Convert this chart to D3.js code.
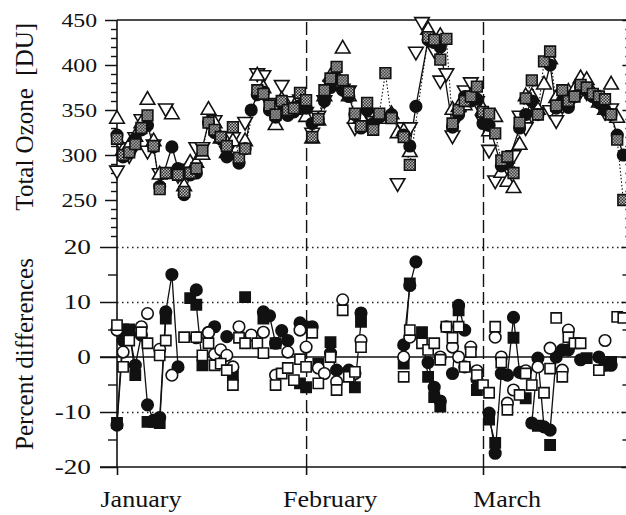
<!DOCTYPE html>
<html>
<head>
<meta charset="utf-8">
<script src="https://cdn.jsdelivr.net/npm/d3@7/dist/d3.min.js"></script>
<style>
  body { margin: 0; background: #fff; }
  text { font-family: "Liberation Serif", "Times New Roman", serif; fill: #111; }
</style>
</head>
<body>
<svg id="chart" width="626" height="515"></svg>
<script>
// days counted from 1 Jan (leap year, so 1 Mar = day 60)
const startDay = Date.UTC(1996, 0, 1)
const monthNames = ['January', 'February', 'March']
const monthDays = [0, 31, 60]
const ozoneTicks = [250, 300, 350, 400, 450]
const diffTicks = [-20, -10, 0, 10, 20]

// top panel: total ozone [DU], one value per day from 1 Jan (null = no value)
const ozoneCircle = [
  322, 298, 302, 318, 328, 333, 309, 265, null, 309,
  285, 256, 278, 280, null, 336, 325, 318, 298, null,
  291, 307, 350, 367, 370, 350, 342, 358, 344, 348,
  355, 352, 335, 340, 360, 375, 385, 372, 365, 345,
  330, 350, 335, 342, null, 345, null, 322, 310, 354,
  null, 428, 425, 420, null, 331, 345, 365, 360, 362,
  335, 333, null, 288, 290, null, 330, 345, 360, 345,
  null, 400, 352, 360, 353, 365, 375, 372, 365, 358,
  350, 345, 322, 300]
const ozoneHatched = [
  318, 300, 303, 312, 330, 344, 310, 262, 280, null,
  278, 259, 280, 285, 305, 336, 328, 320, 310, 331,
  297, 307, null, 372, 368, 355, 345, 360, 350, 352,
  369, 361, 320, 340, 372, 385, 398, 383, 370, 346,
  332, 358, 328, 346, 391, 341, null, 320, 289, null,
  null, 431, 428, 406, 429, 335, 350, 360, 365, 376,
  348, 346, 324, 294, 298, 280, 336, 363, 383, 345,
  404, 415, 355, 372, 360, 365, 378, 375, 368, 365,
  362, 345, 317, 250]
const ozoneUp = [
  340, 305, 310, 320, 335, 361, 315, 278, null, 345,
  null, 265, 291, 291, 300, 350, 335, 318, 302, 315,
  null, 315, null, 388, 374, null, 333, 361, 353, 350,
  353, 342, 318, 338, 365, 387, 378, 418, 365, 340,
  341, 352, null, 340, null, 345, 324, 326, 303, null,
  null, 439, 425, 432, null, 350, 353, 355, 365, 361,
  350, 326, 342, 280, 270, 263, 311, 365, 365, 350,
  378, 406, 363, 355, 370, 372, 385, 383, 368, 358,
  350, 378, 341, null]
const ozoneDown = [
  283, 309, 300, 320, 340, 305, 312, 280, 352, null,
  278, null, 285, 309, 309, null, 339, 320, 305, 320,
  null, 337, null, 391, 389, 358, null, 378, 360, 352,
  362, 348, 325, 344, 361, 378, 381, 374, 372, 331,
  345, null, 338, null, null, null, 269, 331, 331, 415,
  448, null, 417, 383, 391, 322, 345, 372, 381, 360,
  339, 306, 272, null, 280, 300, 344, 331, 345, 348,
  null, 350, 339, 355, 360, 367, 372, 370, 367, 361,
  348, 352, null, null]

// bottom panel: percent differences
const diffCircle = [
  -12.4, 3, 4.5, -1.5, 4, -8.7, -11.5, -11, 8.2, 15,
  -1.8, null, null, 12.2, null, 4.5, 5.5, null, 3.7, null,
  null, null, null, null, 8.2, 7.5, 2.5, 4.8, 3, null,
  6.2, 5.5, 5.5, null, null, 0.7, -2.4, null, -2.4, null,
  8, null, null, null, null, null, null, 2.2, 13, 17.3,
  null, -1, -5.5, -8, null, -3, 9.4, 4.9, null, -4,
  null, -10.2, -17.5, -3, -3.3, 7.2, -2.8, null, -12, -0.2,
  -12.7, -13.3, 0, 1.3, 1.3, null, -0.5, null, null, 0,
  -1.5, -1.5, null, null]
const diffSquare = [
  -12, 5, 5, -3.3, null, -11.8, -11.8, -12, 7, null,
  null, null, 10.7, 9.5, -1.5, null, null, null, null, -3.5,
  null, 10.9, null, null, 7, null, 2.5, null, null, null,
  -4.8, -5.5, null, -1.2, null, 2.7, null, null, null, -5.5,
  6.4, null, null, null, null, null, null, -1.2, 13.4, null,
  4.5, -3.6, -7.3, -9, null, null, 8.5, null, null, -6,
  null, -11.4, -15.6, null, null, 3.5, null, -7.5, null, -12.5,
  null, -16, null, null, null, null, null, -0.2, null, null,
  -1.5, -0.9, null, null]
const diffOpenCircle = [
  4.9, 0.9, null, null, 5.5, 7.9, null, 1.4, null, -3.3,
  null, null, null, 3.5, null, 4.4, 0.5, 1.3, 0.3, -1.8,
  5.5, null, 4, null, 4.5, null, -3.3, null, 0.9, null,
  4.9, 1.8, null, -2, -3, null, -4.5, 10.4, null, -3,
  3, null, null, null, null, null, null, 0, 3.6, null,
  null, null, null, 0, 5.5, 1.8, 0, -1.8, 1.8, -2.5,
  null, null, 3.6, 0, -8.4, -6, null, -2.5, null, -1.8,
  null, 1.6, null, -2.4, 4.9, null, null, null, null, null,
  3, null, null, null]
const diffOpenSquare = [
  5.8, -1.8, 3, null, 4.5, 2.5, null, 0.3, 3, null,
  null, 3.6, null, 3.6, 0.3, 2.5, -1.5, -1.2, -2.4, -5.1,
  3.5, 2.5, null, 2.5, 0.7, null, -5.1, -3, -2, -4.2,
  -0.4, -1.8, 4.4, -4.8, null, 0, -6, 8.5, -3.6, -2.7,
  1.8, null, null, null, null, null, null, -3.6, 4.9, null,
  2.5, 1.3, 2.5, -0.5, 5.5, 3.5, 5.5, -1.8, 0.9, -3.3,
  -5.1, -6.5, 5.5, -1, -9.6, null, -6.9, -3, -5.1, null,
  -6.5, -2.1, 7.1, -3.6, 3.6, 2.5, 2.5, null, null, -2.4,
  null, null, 7.3, 7.1]

const day = i => new Date(startDay + i * 864e5)

let svg = d3.select('#chart')
let x = d3.scaleUtc().domain([day(0), day(84)]).range([117, 629.4])
let yTop = d3.scaleLinear().domain([200, 450]).range([245, 20])
let yBot = d3.scaleLinear().domain([-20, 20]).range([467, 247])
let xL = x.range()[0], xR = x.range()[1]

// grey pattern for the hatched squares
svg.append('defs').append('pattern')
  .attr('id', 'hatch').attr('width', 3).attr('height', 3)
  .attr('patternUnits', 'userSpaceOnUse')
  .call(p => {
    p.append('rect').attr('width', 3).attr('height', 3).attr('fill', '#d8d8d8')
    p.append('rect').attr('width', 1.5).attr('height', 1.5).attr('fill', '#111')
    p.append('rect').attr('x', 1.5).attr('y', 1.5).attr('width', 1.5).attr('height', 1.5).attr('fill', '#111')
  })

// dotted grid in the lower panel
svg.append('g')
  .attr('transform', `translate(${xL},0)`)
  .call(d3.axisLeft(yBot).tickValues([20, 10, -10]).tickSize(-(xR - xL)).tickFormat(''))
  .call(g => g.select('.domain').remove())
  .selectAll('line').attr('stroke', '#222').attr('stroke-width', 1.4).attr('stroke-dasharray', '1.5,3.5')

// zero line
svg.append('line')
  .attr('x1', 100).attr('x2', xR).attr('y1', yBot(0)).attr('y2', yBot(0))
  .attr('stroke', '#111').attr('stroke-width', 1.6)

// month dividers (dashed)
svg.append('g')
  .attr('transform', `translate(0,${yBot(-20)})`)
  .call(d3.axisBottom(x).tickValues([day(31), day(60)]).tickSize(-(yBot(-20) - yTop(450))).tickFormat(''))
  .call(g => g.select('.domain').remove())
  .selectAll('line').attr('stroke', '#111').attr('stroke-width', 1.4).attr('stroke-dasharray', '13,5')

// bottom axis
svg.append('g')
  .attr('transform', `translate(0,${yBot(-20)})`)
  .call(d3.axisBottom(x).tickValues(monthDays.map(day)).tickSize(8).tickSizeOuter(0).tickFormat(''))
  .call(g => g.select('.domain').attr('d', `M100,0H${xR}`))
  .selectAll('path, line').attr('stroke', '#111').attr('stroke-width', 1.6)

// top border
svg.append('line')
  .attr('x1', xL).attr('x2', xR).attr('y1', yTop(450)).attr('y2', yTop(450))
  .attr('stroke', '#111').attr('stroke-width', 1.6)

// left axis line through both panels, and the right one (mostly off the page)
svg.selectAll('.vaxis').data([xL, xR]).join('line')
  .attr('x1', d => d).attr('x2', d => d)
  .attr('y1', yTop(450)).attr('y2', yBot(-20))
  .attr('stroke', '#111').attr('stroke-width', 1.6)

function leftAxis(scale, major, minor, majorLen, minorLen, labelRight, font, sx, xPos, labels) {
  let g = svg.append('g').attr('transform', `translate(${xPos},0)`)
  g.append('g')
    .call(d3.axisLeft(scale).tickValues(minor).tickSize(minorLen).tickFormat(''))
    .call(a => a.select('.domain').remove())
    .selectAll('line').attr('stroke', '#111').attr('stroke-width', 1.4)
  let ax = g.append('g')
    .call(d3.axisLeft(scale).tickValues(major).tickSize(majorLen).tickPadding(0).tickFormat(d => String(d)))
    .call(a => a.select('.domain').remove())
  ax.selectAll('line').attr('stroke', '#111').attr('stroke-width', 1.5)
  ax.selectAll('text')
    .style('font-size', font + 'px')
    .attr('x', -(xPos - labelRight) / sx)
    .attr('transform', `scale(${sx},1)`)
  if (!labels) ax.selectAll('text').remove()
}

const ozoneMinor = d3.range(210, 450, 10).filter(v => v % 50)
const diffMinor = [-15, -5, 5, 15]
leftAxis(yTop, ozoneTicks, ozoneMinor, 12, 6, 97, 19, 1.25, xL, true)
leftAxis(yBot, diffTicks, diffMinor, 17, 9, 91, 21, 1.3, xL, true)
// inward ticks on the right frame
leftAxis(yTop, ozoneTicks, ozoneMinor, 7, 4, 0, 19, 1, xR, false)
leftAxis(yBot, diffTicks, diffMinor, 8, 7, 0, 21, 1, xR, false)

// month names
svg.append('g').selectAll('text')
  .data(monthNames)
  .join('text')
  .attr('transform', (d, i) => `translate(${x(day(monthDays[i])) + 24},507) scale(1.16,1)`)
  .attr('text-anchor', 'middle')
  .style('font-size', '22.5px')
  .text(d => d)

// axis titles
svg.append('text')
  .attr('transform', `translate(33,${(yTop(450) + yTop(235)) / 2}) rotate(-90)`)
  .attr('text-anchor', 'middle')
  .style('font-size', '25px').style('white-space', 'pre')
  .text('Total Ozone  [DU]')
svg.append('text')
  .attr('transform', `translate(33,${(yBot(20) + yBot(-20)) / 2 - 3}) rotate(-90)`)
  .attr('text-anchor', 'middle')
  .style('font-size', '25px')
  .text('Percent differences')

// ---- data marks ----
const pts = vals => vals.map((v, i) => [i, v]).filter(d => d[1] != null)

function connect(vals, y, dash, gaps) {
  let line = d3.line().x(d => x(day(d[0]))).y(d => y(d[1]))
  let data = gaps ? vals.map((v, i) => [i, v]) : pts(vals)
  if (gaps) line.defined(d => d[1] != null)
  svg.append('path')
    .datum(data)
    .attr('d', line)
    .attr('fill', 'none').attr('stroke', '#111')
    .attr('stroke-width', dash ? 1.1 : 1.3)
    .attr('stroke-dasharray', dash)
}

function marks(vals, y, type, size, fill, rot) {
  svg.append('g').selectAll('path')
    .data(pts(vals))
    .join('path')
    .attr('d', d3.symbol().type(type).size(size))
    .attr('transform', d => `translate(${x(day(d[0]))},${y(d[1])})` + (rot ? ' rotate(180)' : ''))
    .attr('fill', fill).attr('stroke', '#111').attr('stroke-width', 1.6)
}

// top panel
connect(ozoneHatched, yTop, '1.5,2', false)
connect(ozoneCircle, yTop, null, false)
marks(ozoneDown, yTop, d3.symbolTriangle, 92, '#fff', true)
marks(ozoneUp, yTop, d3.symbolTriangle, 92, '#fff', false)
marks(ozoneCircle, yTop, d3.symbolCircle, 105, '#111', false)
marks(ozoneHatched, yTop, d3.symbolSquare, 115, 'url(#hatch)', false)

// bottom panel
connect(diffCircle, yBot, null, true)
connect(diffSquare, yBot, null, true)
marks(diffCircle, yBot, d3.symbolCircle, 105, '#111', false)
marks(diffSquare, yBot, d3.symbolSquare, 105, '#111', false)
marks(diffOpenCircle, yBot, d3.symbolCircle, 105, '#fff', false)
marks(diffOpenSquare, yBot, d3.symbolSquare, 105, '#fff', false)
</script>
</body>
</html>
